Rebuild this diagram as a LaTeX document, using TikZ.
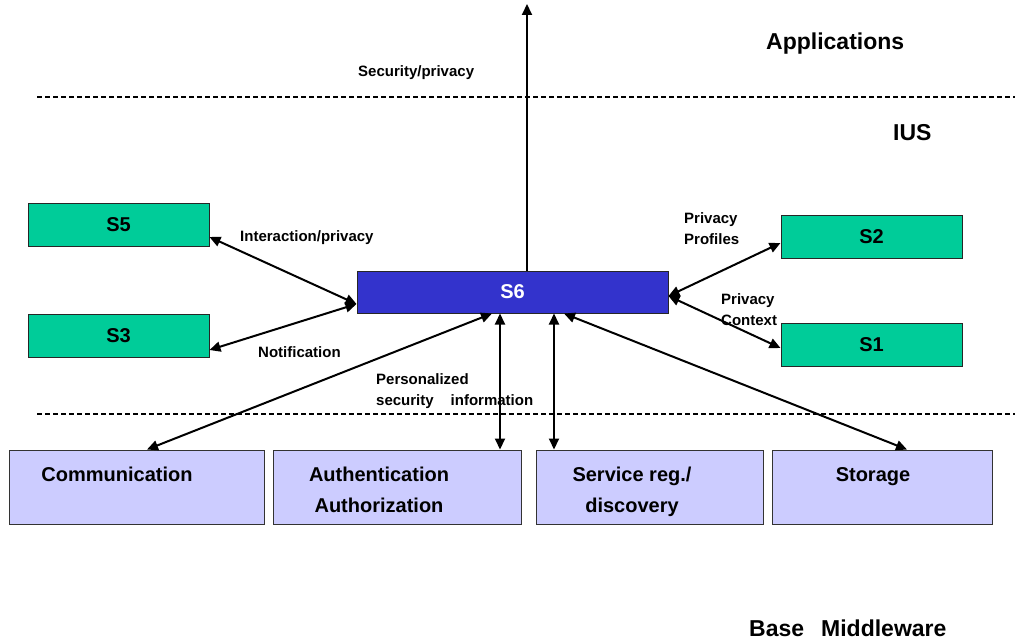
\documentclass[tikz,border=0pt]{standalone}
\usepackage{fontspec}
\setmainfont{Liberation Sans}
\usetikzlibrary{arrows.meta}
\definecolor{svcgreen}{RGB}{0,204,153}
\definecolor{corblue}{RGB}{51,51,204}
\definecolor{baselav}{RGB}{204,204,255}
\begin{document}
\begin{tikzpicture}[x=1pt,y=-1pt,
  greenbox/.style={draw=black!85,line width=1pt,fill=svcgreen,minimum width=181pt,minimum height=43pt,inner sep=0pt,font=\fontsize{20}{24}\selectfont\bfseries},
  corebox/.style={draw=black!85,line width=1pt,fill=corblue,text=white,minimum width=311pt,minimum height=42pt,inner sep=0pt,font=\fontsize{20}{24}\selectfont\bfseries},
  basebox/.style={draw=black!80,line width=1pt,fill=baselav,minimum height=74pt,inner sep=0pt},
  boxtext/.style={font=\fontsize{20}{31}\selectfont\bfseries,align=center,inner sep=0pt,anchor=base},
  smalltext/.style={font=\fontsize{15}{21}\selectfont\bfseries,align=left,inner sep=0pt,anchor=base west},
  bigtext/.style={font=\fontsize{23}{28}\selectfont\bfseries,inner sep=0pt,anchor=base west},
  tip/.tip={Triangle[length=11pt,width=10pt]},
  link/.style={line width=2pt,tip-tip},
  layer/.style={line width=1.6pt,dash pattern=on 5pt off 3pt}]
\useasboundingbox (0,0) rectangle (1015,642);

% layer separators
\coordinate (la) at (37,97);
\coordinate (lb) at (1015,97);
\coordinate (lc) at (37,414);
\coordinate (ld) at (1015,414);
\draw[layer] (la) -- (lb);
\draw[layer] (lc) -- (ld);

% layer names
\node[bigtext] (apps) at (766,50) {Applications};
\node[bigtext] (ius) at (893,140) {IUS};
\node[bigtext] (basemw) at (749,636) {Base\hspace{17pt}Middleware};

% services
\node[greenbox] (s5) at (118.5,225) {S5};
\node[greenbox] (s3) at (118.5,336) {S3};
\node[greenbox] (s2) at (871.5,236.5) {S2};
\node[greenbox] (s1) at (871.5,345) {S1};
\node[corebox] (s6) at (512.5,292) {S6};

% base middleware blocks
\node[basebox,minimum width=255pt] (comm) at (136.5,487) {};
\node[basebox,minimum width=248pt] (auth) at (397,487) {};
\node[basebox,minimum width=227pt] (serv) at (649.5,487) {};
\node[basebox,minimum width=220pt] (stor) at (882,487) {};
% (multi-line labels are placed by the baseline of their last line)
\node[boxtext] (commt) at (117,481) {Communication};
\node[boxtext] (autht) at (379,512) {Authentication\\Authorization};
\node[boxtext] (servt) at (632,512) {Service reg./\\discovery};
\node[boxtext] (stort) at (873,481) {Storage};

% upward link to applications
\coordinate (top) at (527,4);
\draw[line width=2pt,-tip] ([xshift=14.5pt]s6.north) -- (top);
\node[smalltext] (secpriv) at (358,77) {Security/privacy};

% links between services
\draw[link] ([yshift=-12pt]s5.east) -- ([yshift=-12pt]s6.west);
\draw[link] ([yshift=-14pt]s3.east) -- ([yshift=-12pt]s6.west);
\draw[link] ([yshift=-4pt]s6.east) -- ([yshift=-6.5pt]s2.west);
\draw[link] ([yshift=-4pt]s6.east) -- ([yshift=-3pt]s1.west);

% links down to base middleware
\draw[link] ([xshift=10.5pt]comm.north) -- ([xshift=-20.5pt]s6.south);
\draw[link] ([xshift=-12.5pt]s6.south) -- ([xshift=103pt]auth.north);
\draw[link] ([xshift=41.5pt]s6.south) -- ([xshift=-95.5pt]serv.north);
\draw[link] ([xshift=51.5pt]s6.south) -- ([xshift=25pt]stor.north);

% link labels
\node[smalltext] (inter) at (240,241) {Interaction/privacy};
\node[smalltext] (notif) at (258,357) {Notification};
\node[smalltext] (profiles) at (684,244) {Privacy\\Profiles};
\node[smalltext] (context) at (721,325) {Privacy\\Context};
\node[smalltext] (persinfo) at (376,405) {Personalized\\security\hspace{17pt}information};
\end{tikzpicture}
\end{document}
